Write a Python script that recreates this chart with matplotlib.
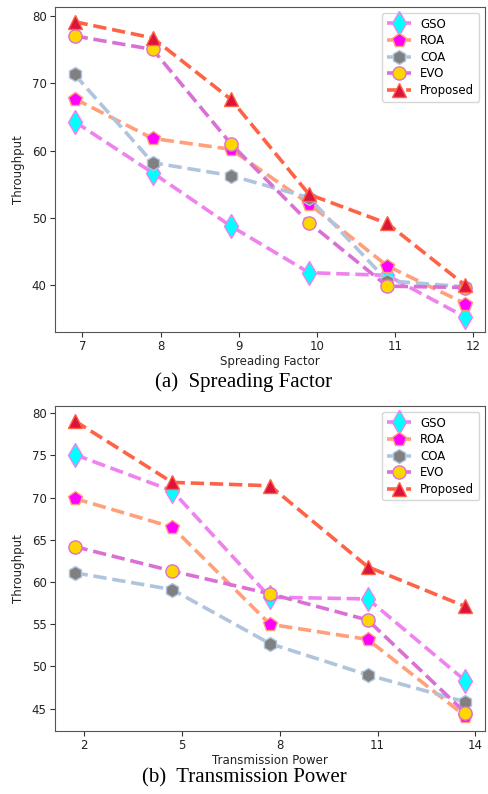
import matplotlib
matplotlib.use("Agg")
import matplotlib.pyplot as plt
import numpy as np

# ---- data ----
sf_labels = ["7", "8", "9", "10", "11", "12"]
sf_gso = [64.3, 56.7, 48.8, 41.9, 41.5, 35.3]
sf_roa = [67.7, 61.8, 60.2, 52.1, 42.9, 37.3]
sf_coa = [71.3, 58.2, 56.3, 53.0, 40.7, 39.8]
sf_evo = [77.0, 75.0, 61.0, 49.3, 39.9, 39.7]
sf_prop = [79.1, 76.7, 67.6, 53.5, 49.2, 40.0]

tp_labels = ["2", "5", "8", "11", "14"]
tp_gso = [75.1, 70.8, 58.2, 58.0, 48.3]
tp_roa = [69.9, 66.5, 55.0, 53.2, 44.1]
tp_coa = [61.1, 59.1, 52.7, 49.0, 45.8]
tp_evo = [64.2, 61.3, 58.6, 55.5, 44.5]
tp_prop = [79.1, 71.8, 71.4, 61.8, 57.1]

names = ["GSO", "ROA", "COA", "EVO", "Proposed"]
line_colors = ["violet", "lightsalmon", "lightsteelblue", "orchid", "tomato"]
face_colors = ["cyan", "magenta", "gray", "gold", "crimson"]
edge_colors = ["violet", "lightsalmon", "lightsteelblue", "orchid", "tomato"]
markers = ["d", "p", "h", "o", "^"]
msizes = [12, 10, 10, 9.5, 10]

fig = plt.figure(figsize=(4.88, 7.94), dpi=100)
ax1 = fig.add_axes([0.1127, 0.5819, 0.8812, 0.4093])
ax2 = fig.add_axes([0.1127, 0.0793, 0.8812, 0.4094])

def draw(ax, labels, series, xlabel):
    x = np.arange(len(labels))
    for vals, nm, lc, fc, ec, mk, ms in zip(series, names, line_colors, face_colors,
                                            edge_colors, markers, msizes):
        ax.plot(x, vals, linestyle="--", linewidth=2.6, color=lc, marker=mk,
                markersize=ms, markerfacecolor=fc,
                markeredgecolor=ec, markeredgewidth=1.0, label=nm)
    ax.set_xticks(x + 0.1)
    ax.set_xticklabels(labels)
    ax.tick_params(labelsize=8.5, colors="#333333", labelcolor="#222222", pad=2.5)
    ax.set_xlabel(xlabel, fontsize=8.5, color="#222222", labelpad=1.5)
    ax.set_ylabel("Throughput", fontsize=8.5, color="#222222")
    for s in ax.spines.values():
        s.set_color("#555555")
    ax.legend(loc="upper right", fontsize=8.5, handlelength=2.0, borderpad=0.4,
              labelspacing=0.3)

draw(ax1, sf_labels, [sf_gso, sf_roa, sf_coa, sf_evo, sf_prop], "Spreading Factor")
draw(ax2, tp_labels, [tp_gso, tp_roa, tp_coa, tp_evo, tp_prop], "Transmission Power")
ax1.set_yticks([40, 50, 60, 70, 80])
ax2.set_yticks([45, 50, 55, 60, 65, 70, 75, 80])
ax1.yaxis.set_label_coords(-0.07, 0.5)
ax2.yaxis.set_label_coords(-0.07, 0.5)

fig.text(0.5, 1 - 382 / 794, "(a)  Spreading Factor", ha="center", va="center",
         fontsize=15, family="Liberation Serif")
fig.text(0.5, 1 - 778 / 794, "(b)  Transmission Power", ha="center", va="center",
         fontsize=15, family="Liberation Serif")

fig.savefig("out.png", dpi=100)
